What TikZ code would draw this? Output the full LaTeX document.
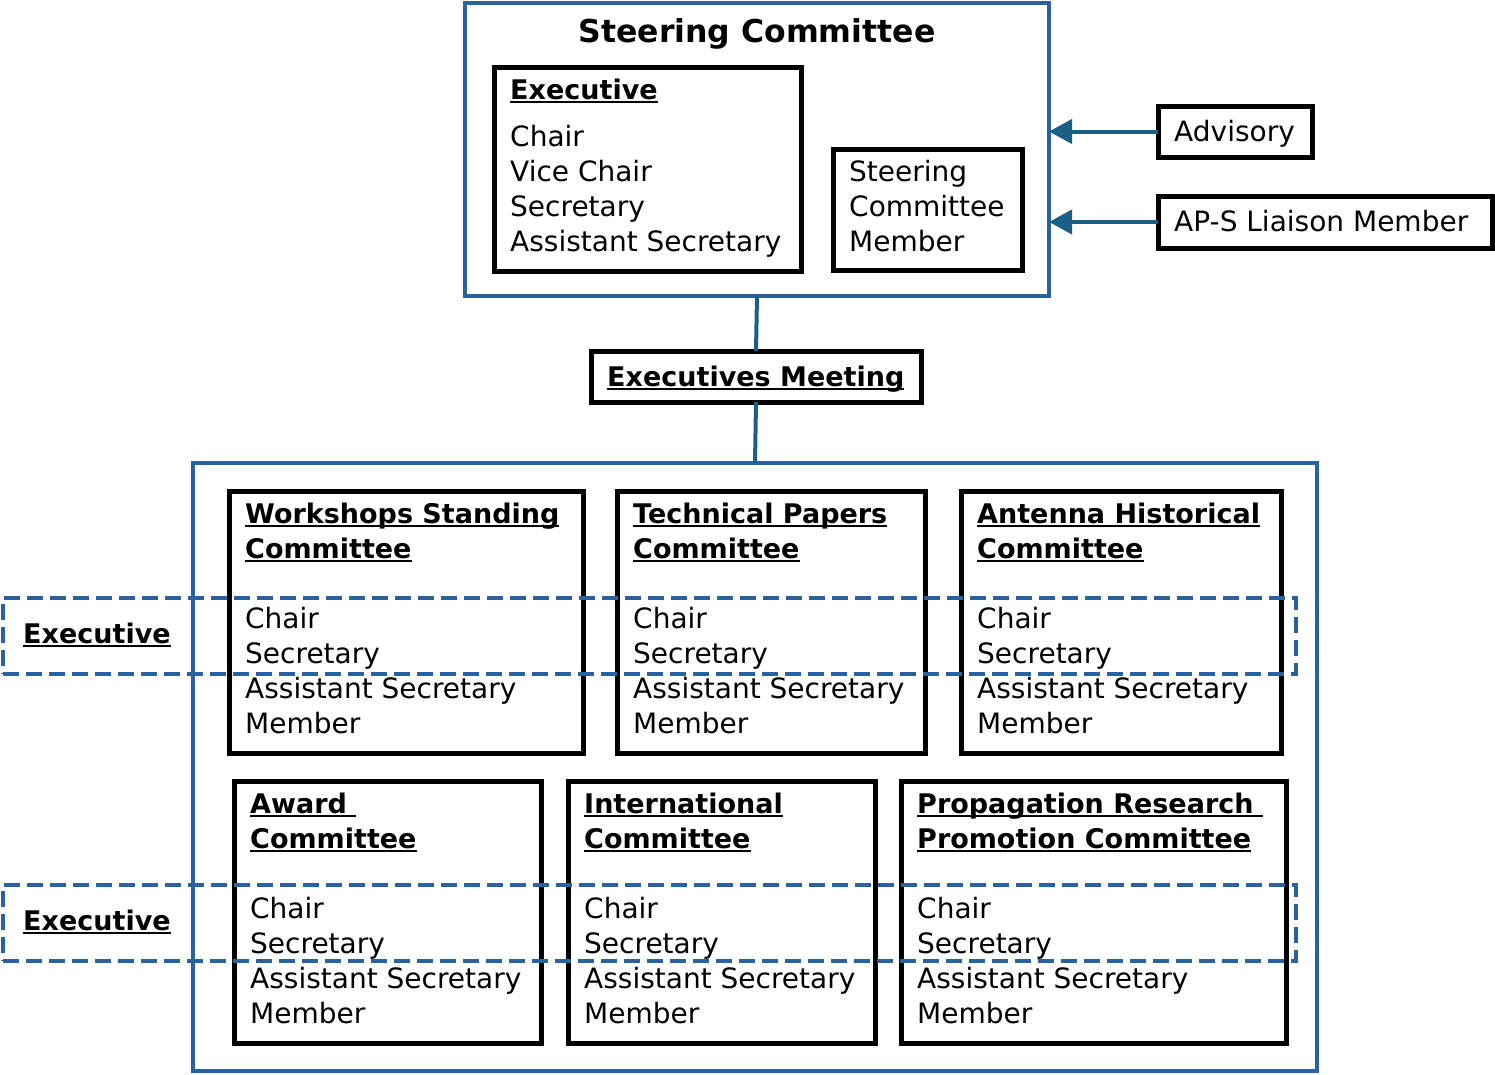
\documentclass[tikz,border=0pt]{standalone}
\usepackage{fontspec}
\setmainfont{DejaVu Sans}
\usetikzlibrary{arrows.meta}
\definecolor{bblue}{HTML}{2A62A0}
\definecolor{cblue}{HTML}{1B5E86}
\newcommand\myul[1]{\setbox0\hbox{#1}\rlap{\rule[-3.5pt]{\wd0}{1.8pt}}\box0}
\newcommand\mylines[4]{%
  \foreach \t [count=\i] in {#4} {\node[txt] (#1-\i) at ({#2},{#3+35*(\i-1)}) {\t};}}
\tikzset{
  bluebox/.style={draw=bblue, line width=4.5pt, inner sep=0pt, outer sep=0pt, anchor=north west},
  blackbox/.style={draw=black, line width=5pt, fill=white, inner sep=0pt, outer sep=0pt, anchor=north west},
  dashbox/.style={draw=bblue, line width=4.5pt, dash pattern=on 16pt off 7pt, inner sep=0pt, outer sep=0pt, anchor=north west},
  txt/.style={font=\fontsize{28}{35}\selectfont, inner sep=0pt, anchor=base west},
  hdr/.style={font=\fontsize{27}{35}\selectfont\bfseries, inner sep=0pt, anchor=base west},
  conn/.style={draw=cblue, line width=4pt},
  arr/.style={conn, -{Triangle[length=23pt,width=24pt]}}
}
\begin{document}
\begin{tikzpicture}[x=1pt,y=-1pt]
\useasboundingbox[fill=white] (0,0) rectangle (1495,1074);

% Steering committee
\node[bluebox, minimum width=584pt, minimum height=293pt] (steer) at (465,3) {};
\node[font=\fontsize{31.5}{38}\selectfont\bfseries, inner sep=0pt, anchor=base] (title) at (757,42) {Steering Committee};
\node[blackbox, minimum width=307pt, minimum height=204pt] (exec) at (494,67) {};
\node[hdr] (exech) at (510,99) {\myul{Executive}};
\mylines{exec}{510}{146}{Chair,Vice Chair,Secretary,Assistant Secretary}
\node[blackbox, minimum width=189pt, minimum height=121pt] (scm) at (833,149) {};
\mylines{scm}{849}{181}{Steering,Committee,Member}

% Advisory, liaison
\node[blackbox, minimum width=154pt, minimum height=51pt] (adv) at (1158,106) {};
\node[txt] (advt) at (1174,141) {Advisory};
\node[blackbox, minimum width=334pt, minimum height=52pt] (aps) at (1158,196) {};
\node[txt] (apst) at (1174,231) {AP-S Liaison Member};
\draw[arr] (adv.west) -- (adv.west -| steer.east);
\draw[arr] (aps.west) -- (aps.west -| steer.east);

% Executives meeting
\node[blackbox, minimum width=330pt, minimum height=51pt] (em) at (591,351) {};
\node[hdr] (emt) at (607,386) {\myul{Executives Meeting}};

% Lower box
\node[bluebox, minimum width=1124pt, minimum height=608pt] (low) at (193,463) {};
\draw[conn] (steer.south) -- (em.north);
\draw[conn] (em.south) -- (low.north);

% Row 1
\node[blackbox, minimum width=354pt, minimum height=262pt] (ws) at (229,491) {};
\node[hdr] (ws-h1) at (245,523) {\myul{Workshops Standing}};
\node[hdr] (ws-h2) at (245,558) {\myul{Committee}};
\mylines{ws}{245}{628}{Chair,Secretary,Assistant Secretary,Member}

\node[blackbox, minimum width=308pt, minimum height=262pt] (tp) at (617,491) {};
\node[hdr] (tp-h1) at (633,523) {\myul{Technical Papers}};
\node[hdr] (tp-h2) at (633,558) {\myul{Committee}};
\mylines{tp}{633}{628}{Chair,Secretary,Assistant Secretary,Member}

\node[blackbox, minimum width=320pt, minimum height=262pt] (ah) at (961,491) {};
\node[hdr] (ah-h1) at (977,523) {\myul{Antenna Historical}};
\node[hdr] (ah-h2) at (977,558) {\myul{Committee}};
\mylines{ah}{977}{628}{Chair,Secretary,Assistant Secretary,Member}

% Row 2
\node[blackbox, minimum width=307pt, minimum height=262pt] (aw) at (234,781) {};
\node[hdr] (aw-h1) at (250,813) {\myul{Award }};
\node[hdr] (aw-h2) at (250,848) {\myul{Committee}};
\mylines{aw}{250}{918}{Chair,Secretary,Assistant Secretary,Member}

\node[blackbox, minimum width=307pt, minimum height=262pt] (ic) at (568,781) {};
\node[hdr] (ic-h1) at (584,813) {\myul{International}};
\node[hdr] (ic-h2) at (584,848) {\myul{Committee}};
\mylines{ic}{584}{918}{Chair,Secretary,Assistant Secretary,Member}

\node[blackbox, minimum width=385pt, minimum height=262pt] (pr) at (901,781) {};
\node[hdr] (pr-h1) at (917,813) {\myul{Propagation Research }};
\node[hdr] (pr-h2) at (917,848) {\myul{Promotion Committee}};
\mylines{pr}{917}{918}{Chair,Secretary,Assistant Secretary,Member}

% Dashed executive bands
\node[dashbox, minimum width=1293pt, minimum height=76pt] (d1) at (3,598) {};
\node[hdr] (d1t) at (23,643) {\myul{Executive}};
\node[dashbox, minimum width=1293pt, minimum height=76pt] (d2) at (3,885) {};
\node[hdr] (d2t) at (23,930) {\myul{Executive}};
\end{tikzpicture}
\end{document}
